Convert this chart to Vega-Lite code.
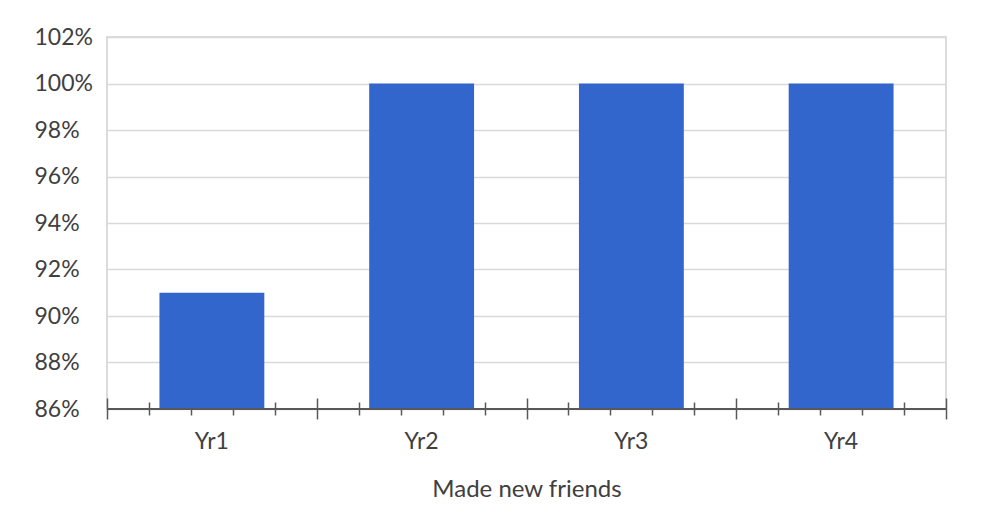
{
  "$schema": "https://vega.github.io/schema/vega-lite/v6.json",
  "width": 839,
  "height": 372,
  "autosize": {"type": "none"},
  "padding": {"left": 107, "top": 37, "right": 41, "bottom": 108},
  "background": "white",
  "config": {
    "view": {"stroke": "#d0d0d0", "strokeWidth": 1.5},
    "font": "Lato",
    "axis": {"labelFont": "Lato", "titleFont": "Lato", "labelColor": "#404040", "titleColor": "#404040"}
  },
  "data": {
    "values": [
      {"year": "Yr1", "pct": 0.91},
      {"year": "Yr2", "pct": 1.0},
      {"year": "Yr3", "pct": 1.0},
      {"year": "Yr4", "pct": 1.0}
    ]
  },
  "layer": [
    {
      "mark": {"type": "bar", "color": "#3366CC", "clip": true},
      "encoding": {
        "x": {
          "field": "year",
          "type": "nominal",
          "sort": null,
          "scale": {"paddingInner": 0.5, "paddingOuter": 0.25},
          "axis": {
            "orient": "bottom",
            "ticks": false,
            "tickSize": 0,
            "domain": false,
            "grid": false,
            "labelAngle": 0,
            "labelFontSize": 23,
            "labelPadding": 21,
            "title": "Made new friends",
            "titleFontSize": 24,
            "titleFontWeight": "normal",
            "titlePadding": 24
          }
        },
        "y": {
          "field": "pct",
          "type": "quantitative",
          "scale": {"domain": [0.86, 1.02], "nice": false, "zero": false},
          "axis": {
            "values": [0.86, 0.88, 0.9, 0.92, 0.94, 0.96, 0.98, 1.0, 1.02],
            "format": ".0%",
            "ticks": false,
            "tickSize": 0,
            "domain": false,
            "grid": true,
            "gridColor": "#d9d9d9",
            "gridWidth": 1.5,
            "labelAlign": "left",
            "labelPadding": 73,
            "labelFontSize": 23,
            "title": null
          }
        }
      }
    },
    {
      "mark": {"type": "rule", "opacity": 0},
      "encoding": {
        "x": {
          "datum": 0,
          "type": "quantitative",
          "scale": {"domain": [0, 20], "nice": false, "zero": false},
          "axis": {
            "orient": "bottom",
            "offset": -7,
            "values": [1, 2, 3, 4, 6, 7, 8, 9, 11, 12, 13, 14, 16, 17, 18, 19],
            "labels": false,
            "domain": false,
            "grid": false,
            "ticks": true,
            "tickSize": 13,
            "tickColor": "#595959",
            "tickWidth": 1.5,
            "title": null
          }
        }
      }
    },
    {
      "mark": {"type": "rule", "opacity": 0},
      "encoding": {
        "x": {
          "datum": 0,
          "type": "quantitative",
          "scale": {"domain": [0, 4], "nice": false, "zero": false},
          "axis": {
            "orient": "bottom",
            "offset": -11,
            "values": [0, 1, 2, 3, 4],
            "labels": false,
            "domain": false,
            "grid": false,
            "ticks": true,
            "tickSize": 21,
            "tickColor": "#595959",
            "tickWidth": 1.5,
            "title": null
          }
        }
      }
    },
    {
      "mark": {"type": "rule", "color": "#595959", "strokeWidth": 1.5},
      "encoding": {"y": {"datum": 0.86}}
    }
  ],
  "resolve": {"scale": {"x": "independent"}, "axis": {"x": "independent"}}
}
